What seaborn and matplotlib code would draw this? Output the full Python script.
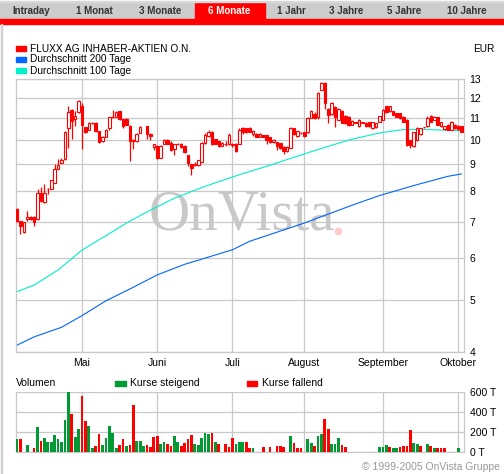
import numpy as np
import pandas as pd
import seaborn as sns
import matplotlib
matplotlib.use('Agg')
from matplotlib import pyplot as plt
from matplotlib.patches import Rectangle
from matplotlib.ticker import NullLocator

# Trading days shown in the chart (6 months)
dates = pd.bdate_range('2005-04-05', '2005-10-04')

# Candles: day index, open, high, low, close
candle_idx = [0, 1, 2, 3, 4, 5, 6, 7, 8, 9, 10, 11, 12, 13, 14, 15, 16, 17, 18, 19,
              20, 21, 22, 23, 24, 25, 26, 27, 28, 29, 30, 31, 32, 33, 34, 35, 36, 38, 39, 40,
              41, 42, 43, 44, 45, 46, 47, 48, 49, 50, 51, 52, 53, 54, 55, 56, 57, 58, 59, 60,
              61, 62, 63, 64, 65, 66, 67, 68, 69, 70, 71, 72, 73, 74, 75, 76, 77, 78, 79, 80,
              81, 82, 83, 84, 85, 86, 87, 88, 89, 90, 91, 92, 93, 94, 95, 96, 97, 98, 99, 100,
              101, 102, 103, 104, 105, 106, 107, 108, 109, 110, 111, 112, 113, 114, 115, 116,
              117, 118, 119, 120, 121, 122, 123, 124, 125, 126, 127, 128, 129, 130]
opens = [7.41, 7.05, 6.72, 7.10, 7.18, 7.17, 7.10, 7.94, 7.64, 8.10, 8.10, 8.30, 8.83, 9.06, 9.19, 10.50, 11.35, 10.94, 11.25, 11.55,
         10.55, 10.45, 10.74, 10.75, 10.37, 9.94, 10.12, 10.52, 11.02, 11.05, 11.30, 10.94, 10.94, 10.62, 9.94, 9.94, 10.30, 10.60, 10.26, 9.68,
         9.75, 9.26, 9.82, 9.97, 9.85, 9.60, 9.82, 9.82, 9.75, 9.35, 9.00, 8.96, 8.96, 9.10, 9.85, 10.15, 10.32, 10.02, 9.94, 9.75,
         9.83, 9.84, 9.76, 9.84, 9.84, 10.54, 10.50, 10.50, 10.25, 10.26, 10.12, 10.20, 10.20, 10.10, 9.90, 9.90, 9.85, 9.70, 9.53, 9.67,
         10.50, 10.15, 10.30, 10.34, 10.34, 11.00, 11.20, 11.05, 12.40, 12.79, 11.40, 11.20, 11.50, 10.90, 11.30, 11.10, 11.05, 10.67, 10.77, 10.59,
         10.77, 10.77, 10.80, 10.50, 10.55, 10.80, 10.90, 11.55, 11.30, 11.30, 11.22, 11.22, 11.05, 10.90, 9.98, 9.72,
         9.98, 10.25, 10.55, 10.59, 11.10, 10.90, 11.02, 10.59, 10.46, 10.67, 10.45, 10.67, 10.62, 10.59]
highs = [7.45, 7.05, 7.02, 7.34, 7.20, 7.20, 8.10, 8.15, 8.25, 8.12, 8.42, 9.00, 9.20, 9.25, 10.37, 11.55, 11.40, 11.30, 11.88, 11.70,
         10.58, 10.78, 10.78, 10.78, 10.40, 10.15, 10.48, 11.05, 11.35, 11.30, 11.32, 10.96, 10.98, 10.67, 10.02, 10.28, 10.60, 10.62, 10.28, 9.82,
         9.78, 9.78, 10.05, 10.05, 9.94, 9.84, 9.85, 9.86, 9.78, 9.36, 9.02, 9.10, 9.16, 9.90, 10.28, 10.42, 10.40, 10.04, 9.96, 9.90,
         9.95, 10.30, 9.88, 9.88, 10.50, 10.58, 10.52, 10.55, 10.42, 10.28, 10.28, 10.22, 10.22, 10.12, 10.02, 9.92, 9.87, 9.72, 9.72, 10.55,
         10.52, 10.40, 10.34, 10.36, 11.02, 11.35, 11.25, 12.30, 12.82, 12.82, 11.45, 11.75, 11.55, 11.45, 11.35, 11.12, 11.08, 10.88, 10.80, 10.92,
         10.80, 10.80, 10.82, 10.82, 10.77, 11.10, 11.40, 11.58, 11.58, 11.32, 11.24, 11.24, 11.07, 10.92, 10.00, 10.36,
         10.55, 10.52, 10.58, 11.08, 11.12, 11.07, 11.04, 10.82, 10.61, 10.69, 10.85, 10.69, 10.64, 10.61]
lows = [7.00, 6.66, 6.70, 7.05, 7.08, 6.90, 7.08, 7.66, 7.60, 7.90, 8.08, 8.28, 8.80, 9.05, 9.17, 9.66, 10.03, 10.60, 11.22, 9.60,
        10.30, 10.43, 10.70, 10.35, 9.85, 9.92, 10.10, 10.45, 11.00, 11.03, 10.90, 10.50, 10.65, 9.13, 9.60, 9.92, 10.28, 10.05, 9.97, 9.58,
        9.20, 9.24, 9.80, 9.80, 9.53, 9.37, 9.80, 9.66, 9.45, 8.94, 8.60, 8.92, 8.94, 9.08, 9.80, 10.13, 9.76, 9.80, 9.70, 9.73,
        9.75, 9.76, 9.70, 9.48, 9.82, 10.25, 10.30, 10.32, 10.15, 10.10, 10.10, 10.10, 9.80, 9.85, 9.88, 9.55, 9.60, 9.40, 9.50, 9.65,
        10.20, 10.12, 10.26, 10.14, 10.30, 10.98, 10.95, 10.95, 12.38, 11.40, 10.75, 11.15, 10.55, 10.88, 10.74, 10.72, 10.62, 10.65, 10.74, 10.57,
        10.74, 10.57, 10.57, 10.48, 10.53, 10.78, 10.88, 11.23, 11.28, 11.12, 11.03, 10.95, 10.80, 9.74, 9.67, 9.70,
        9.96, 10.23, 10.52, 10.57, 10.80, 10.88, 10.65, 10.57, 10.44, 10.43, 10.43, 10.48, 10.44, 10.32]
closes = [7.05, 6.90, 7.00, 7.18, 7.10, 7.02, 7.94, 7.68, 7.94, 8.08, 8.39, 8.80, 8.96, 9.16, 10.34, 11.25, 10.83, 11.10, 11.80, 10.67,
          10.34, 10.75, 10.76, 10.37, 9.89, 10.12, 10.45, 11.03, 11.04, 11.28, 10.94, 10.60, 10.67, 9.94, 10.00, 10.26, 10.55, 10.26, 10.17, 9.80,
          9.26, 9.75, 9.98, 9.82, 9.55, 9.82, 9.83, 9.68, 9.50, 9.06, 8.87, 9.02, 9.15, 9.87, 10.20, 10.32, 9.82, 9.82, 9.75, 9.88,
          9.84, 10.20, 9.84, 9.52, 10.42, 10.35, 10.32, 10.34, 10.40, 10.12, 10.26, 10.12, 9.98, 9.90, 10.00, 9.72, 9.67, 9.53, 9.70, 10.50,
          10.25, 10.38, 10.31, 10.16, 11.00, 11.30, 10.97, 12.25, 12.79, 11.70, 11.15, 11.70, 11.05, 11.40, 10.74, 10.74, 10.67, 10.85, 10.78, 10.90,
          10.78, 10.59, 10.59, 10.80, 10.75, 11.08, 11.38, 11.25, 11.55, 11.14, 11.05, 10.97, 10.82, 9.76, 9.76, 10.34,
          10.50, 10.50, 10.56, 11.00, 10.82, 11.05, 10.67, 10.80, 10.59, 10.45, 10.80, 10.50, 10.46, 10.34]

# Moving averages (read at sample days)
ma200_idx = [0, 5, 13, 19, 26, 34, 41, 49, 63, 68, 84, 98, 106, 117, 126, 130]
ma200 = [4.12, 4.27, 4.45, 4.68, 4.99, 5.29, 5.58, 5.84, 6.22, 6.45, 6.98, 7.54, 7.86, 8.24, 8.54, 8.63]
ma100_idx = [0, 5, 12, 19, 27, 33, 39, 46, 55, 65, 74, 84, 97, 106, 113, 120, 130]
ma100 = [5.19, 5.34, 5.70, 6.21, 6.67, 7.04, 7.38, 7.77, 8.18, 8.60, 8.96, 9.41, 9.99, 10.30, 10.45, 10.45, 10.40]

# Volume in thousands, True = Kurse steigend
vol_idx = [0, 1, 3, 5, 6, 7, 8, 9, 10, 11, 12, 13, 14, 15, 16, 17, 18, 19, 20, 21,
           22, 23, 24, 25, 26, 27, 28, 29, 30, 31, 32, 33, 34, 35, 36, 37, 38, 39, 40, 41,
           42, 43, 44, 45, 46, 47, 48, 49, 50, 51, 52, 53, 54, 55, 56, 57, 58, 59, 61, 62,
           63, 64, 65, 66, 67, 68, 69, 72, 74, 76, 77, 78, 80, 81, 82, 83, 85, 86, 87, 88,
           89, 90, 91, 92, 93, 94, 95, 96, 106, 107, 108, 109, 110, 111, 112, 113, 114, 115,
           116, 117, 118, 120, 121, 122, 123, 124, 125, 129]
vol_value = [133, 133, 73, 40, 253, 113, 143, 97, 97, 173, 133, 103, 323, 597, 383, 153, 233, 563, 313, 263,
             43, 63, 183, 73, 143, 263, 193, 40, 73, 133, 63, 73, 473, 113, 113, 63, 73, 53, 153, 163,
             83, 103, 83, 63, 163, 103, 63, 93, 133, 173, 83, 73, 143, 193, 183, 193, 103, 83, 83, 53,
             143, 83, 103, 103, 103, 40, 40, 50, 50, 60, 60, 50, 160, 90, 40, 40, 130, 90, 60, 160,
             180, 330, 230, 83, 83, 140, 70, 50, 50, 50, 70, 50, 40, 40, 50, 60, 60, 223,
             90, 80, 60, 80, 60, 40, 40, 40, 40, 40]
vol_up = [1, 0, 1, 0, 1, 0, 1, 1, 1, 1, 1, 1, 1, 1, 0, 1, 1, 0, 0, 1,
          1, 0, 0, 1, 1, 1, 1, 1, 0, 0, 1, 0, 0, 1, 1, 1, 0, 0, 0, 0,
          1, 1, 0, 0, 1, 1, 0, 0, 0, 0, 1, 1, 1, 1, 1, 0, 1, 0, 0, 0,
          0, 1, 1, 1, 0, 0, 1, 0, 0, 0, 0, 0, 1, 0, 0, 0, 1, 1, 0, 1,
          1, 0, 0, 1, 1, 1, 0, 0, 1, 1, 1, 0, 1, 1, 0, 0, 0, 0,
          1, 1, 0, 1, 0, 1, 0, 0, 0, 1]

price_ticks = [4, 5, 6, 7, 8, 9, 10, 11, 12, 13]
vol_ticks = [0, 200, 400, 600]
tabs = ['Intraday', '1 Monat', '3 Monate', '6 Monate', '1 Jahr', '3 Jahre', '5 Jahre', '10 Jahre']
tab_x = [31, 94, 160, 229, 291, 346, 404, 467]
month_names = {5: 'Mai', 6: 'Juni', 7: 'Juli', 8: 'August', 9: 'September', 10: 'Oktober'}

RED = '#ff0000'
GREEN = '#009933'
GRID = '#c8c8c8'
BLUE = '#0066ff'
TEAL = '#00f0c8'

sns.set_theme(style='white')
plt.rcParams['font.family'] = ['Liberation Sans', 'DejaVu Sans']

W, H = 504, 474
fig = plt.figure(figsize=(W / 100, H / 100), dpi=100)


def fx(px):
    return px / W


def fy(py):
    return 1 - py / H


# tab bar
fig.patches.append(Rectangle((0, fy(19)), 1, fy(3) - fy(19), transform=fig.transFigure,
                             color='#cccccc', zorder=0))
fig.patches.append(Rectangle((fx(195), fy(19)), fx(70), fy(3) - fy(19), transform=fig.transFigure,
                             color=RED, zorder=1))
fig.patches.append(Rectangle((0, fy(24)), 1, fy(19) - fy(24), transform=fig.transFigure,
                             color=RED, zorder=1))
fig.patches.append(Rectangle((0, fy(1.7)), 1, fy(1) - fy(1.7), transform=fig.transFigure,
                             color='#d8d8d8', zorder=1))
fig.patches.append(Rectangle((fx(1), 0), fx(1), fy(24), transform=fig.transFigure,
                             color='#d0d0d0', zorder=1))
for name, x in zip(tabs, tab_x):
    col = 'white' if name == '6 Monate' else '#333333'
    fig.text(fx(x), fy(11.5), name, ha='center', va='center', fontsize=7, fontweight='bold', color=col)

# legend of the price panel
legend_items = [('FLUXX AG INHABER-AKTIEN O.N.', RED), ('Durchschnitt 200 Tage', BLUE),
                ('Durchschnitt 100 Tage', TEAL)]
for k, (label, col) in enumerate(legend_items):
    yc = 48.5 + 11 * k
    fig.patches.append(Rectangle((fx(16), fy(yc + 2.5)), fx(10), fy(yc - 2.5) - fy(yc + 2.5),
                                 transform=fig.transFigure, color=col))
    fig.text(fx(30), fy(yc), label, ha='left', va='center', fontsize=7.3, color='black')
fig.text(fx(494), fy(48.5), 'EUR', ha='right', va='center', fontsize=7.3, color='black')

# price panel
ax = fig.add_axes([fx(16), fy(352), fx(448), fy(79) - fy(352)])
x0 = -0.3
ax.set_xlim(x0, len(dates) - 1 + 0.7)
ax.set_yscale('log')
ax.set_ylim(4, 13)

month_pos = [i for i in range(1, len(dates)) if dates[i].month != dates[i - 1].month]
month_lab = [month_names[dates[i].month] for i in month_pos]

ax.set_xticks(month_pos, labels=month_lab)
ax.set_yticks(price_ticks, labels=[str(v) for v in price_ticks])
ax.yaxis.set_minor_locator(NullLocator())
ax.yaxis.tick_right()
ax.tick_params(axis='both', length=0, labelsize=7.5, colors='black')
ax.tick_params(axis='y', pad=4)
ax.tick_params(axis='x', pad=4.5)
ax.grid(True, color=GRID, linewidth=0.9)
ax.set_axisbelow(True)
for s in ax.spines.values():
    s.set_color(GRID)
    s.set_linewidth(0.9)

ax.text(0.505, 0.5, 'OnVista', transform=ax.transAxes, ha='center', va='center',
        fontsize=41, family=['Liberation Serif', 'DejaVu Serif'], color='#c8c8c8', zorder=1)
ax.plot([0.719], [0.445], transform=ax.transAxes, marker='o', ms=4.5, color='#ffcccc',
        linestyle='none', zorder=1)

sns.lineplot(x=ma200_idx, y=ma200, ax=ax, color=BLUE, linewidth=0.8, zorder=2)
sns.lineplot(x=ma100_idx, y=ma100, ax=ax, color=TEAL, linewidth=0.8, zorder=2)

o = np.array(opens)
c = np.array(closes)
rising = c >= o
ax.vlines(candle_idx, lows, highs, color=RED, linewidth=0.9, zorder=3)
ax.bar(candle_idx, np.maximum(np.abs(c - o), 0.005), bottom=np.minimum(o, c), width=0.75,
       color=np.where(rising, 'white', RED), edgecolor=RED, linewidth=0.8, zorder=4)
ax.set_xlabel('')
ax.set_ylabel('')

# volume panel
vax = fig.add_axes([fx(16), fy(452), fx(448), fy(392) - fy(452)])
vax.set_xlim(x0, len(dates) - 1 + 0.7)
vax.set_ylim(0, 600)
vax.bar(vol_idx, vol_value, width=0.8, color=[GREEN if u else RED for u in vol_up],
        linewidth=0, zorder=3)
vax.set_xticks(month_pos, labels=[])
vax.set_yticks(vol_ticks, labels=[f'{v} T' for v in vol_ticks])
vax.yaxis.tick_right()
vax.tick_params(axis='both', length=0, labelsize=7.5, colors='black')
vax.tick_params(axis='y', pad=4)
vax.grid(True, color=GRID, linewidth=0.9)
vax.set_axisbelow(True)
for s in vax.spines.values():
    s.set_color(GRID)
    s.set_linewidth(0.9)
vax.spines['top'].set_visible(False)

fig.text(fx(16), fy(383), 'Volumen', ha='left', va='center', fontsize=7.5, color='black')
fig.patches.append(Rectangle((fx(115), fy(386)), fx(11), fy(381) - fy(386),
                             transform=fig.transFigure, color=GREEN))
fig.text(fx(129.5), fy(383), 'Kurse steigend', ha='left', va='center', fontsize=7.5, color='black')
fig.patches.append(Rectangle((fx(247), fy(386)), fx(10), fy(381) - fy(386),
                             transform=fig.transFigure, color=RED))
fig.text(fx(261.5), fy(383), 'Kurse fallend', ha='left', va='center', fontsize=7.5, color='black')

fig.text(fx(500), fy(467), '\u00a9 1999-2005 OnVista Gruppe', ha='right', va='center',
         fontsize=7.5, color='#999999')

fig.savefig('out.png', dpi=100, facecolor='white')
